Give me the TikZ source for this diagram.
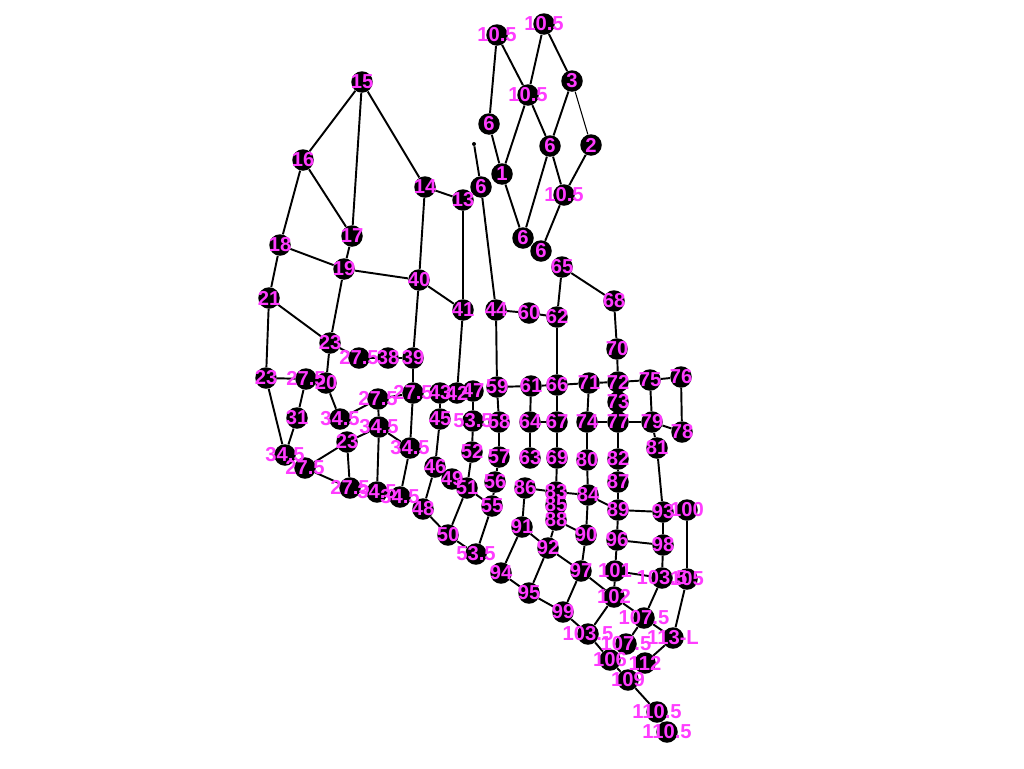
\documentclass[tikz,border=0pt]{standalone}
\usepackage{fontspec}
\setmainfont{Liberation Sans}
\usepackage{tikz}
\usetikzlibrary{backgrounds}
\definecolor{lblpink}{RGB}{255,60,255}
\pgfdeclarelayer{front}
\pgfsetlayers{background,main,front}

\begin{document}
\begin{tikzpicture}[x=0.02cm,y=-0.02cm]
    \tikzset{vx/.style={circle,fill=black,minimum size=0.43cm,inner sep=0pt},
      lbl/.style={inner sep=0pt,text=lblpink,font=\fontsize{11.5}{11.5}\selectfont\bfseries},
      ed/.style={line width=1.1pt}}
    \useasboundingbox (0,0) rectangle (1024,768);
    % upper group
    \foreach \n/\x/\y/\t in {a1/497/35/10.5,a2/544/24/10.5,a3/572/81/3,a4/528/95/10.5,a5/489/124/6,a6/550/146/6,a7/591/145/2,a8/502/174/1,a9/481/187/6,a10/564/195/10.5,a11/523/238/6,a12/541/251/6}{
      \node[vx] (\n) at (\x,\y) {};
      \begin{pgfonlayer}{front}\node[lbl] (\n t) at (\n) {\t};\end{pgfonlayer}
    }
    \node[circle,fill=black,minimum size=0.08cm,inner sep=0pt] (tip) at (474,144) {};
    % left group
    \foreach \n/\x/\y/\t in {n15/362/82/15,n16/303/160/16,n14/425/187/14,n13/463/200/13,n17/352/236/17,n18/280/245/18,n19/344/269/19,n40/419/280/40,n21/269/298/21,n41/463/310/41,
      n23a/330/343/23,n27a/359/358/27.5,n38/388/358/38,n39/413/358/39,n23b/266/378/23,n27b/306/379/27.5,n20/326/383/20,n27c/378/399/27.5,n27d/413/393/27.5,n43/440/393/43,n42/457/393/42,n47/473/391/47,
      n31/297/418/31,n34a/340/419/34.5,n34b/379/427/34.5,n45/440/419/45,n53a/473/421/53.5,n23c/347/442/23,n34c/410/448/34.5,n34d/285/455/34.5,n52/472/452/52,n27e/305/468/27.5,n46/435/467/46,n49/452/479/49,n51/467/488/51,
      n27f/350/488/27.5,n34e/377/492/34.5,n34f/400/497/34.5,n48/423/509/48,n50/448/535/50,n53b/476/554/53.5}{
      \node[vx] (\n) at (\x,\y) {};
      \begin{pgfonlayer}{front}\node[lbl] (\n t) at (\n) {\t};\end{pgfonlayer}
    }
    % middle group
    \foreach \n/\x/\y/\t in {n65/562/267/65,n44/496/310/44,n60/529/313/60,n62/557/317/62,n59/497/387/59,n61/531/386/61,n66/557/385/66,n71/589/383/71,n58/499/422/58,n64/530/422/64,n67/557/422/67,n74/587/422/74,
      n57/499/457/57,n63/530/458/63,n69/557/458/69,n80/587/460/80,n56/495/482/56,n86/525/488/86,n83/556/492/83,n84/588/495/84,n55/492/506/55,n85/556/505/85,n88/556/520/88,n91/522/527/91,n90/586/535/90,
      n92/548/548/92,n94/501/573/94,n97/581/571/97,n95/529/593/95,n99/563/612/99}{
      \node[vx] (\n) at (\x,\y) {};
      \begin{pgfonlayer}{front}\node[lbl] (\n t) at (\n) {\t};\end{pgfonlayer}
    }
    % right group
    \foreach \n/\x/\y/\t in {n68/614/301/68,n70/617/349/70,n72/618/382/72,n75/650/380/75,n76/681/377/76,n73/618/402/73,n77/618/422/77,n79/652/422/79,n78/682/432/78,n81/657/448/81,n82/618/459/82,n87/618/482/87,
      n89/618/510/89,n93/663/512/93,n100/687/510/100,n96/617/540/96,n98/663/545/98,n101/615/571/101,n103a/662/578/103.5,n105/687/579/105,n102/614/597/102,n107a/644/618/107.5,n103b/588/634/103.5,
      n113/673/638/113-L,n107b/626/644/107.5,n106/610/660/106,n112/645/663/112,n109/628/680/109,n110a/657/712/110.5,n110b/667/732/110.5}{
      \node[vx] (\n) at (\x,\y) {};
      \begin{pgfonlayer}{front}\node[lbl] (\n t) at (\n) {\t};\end{pgfonlayer}
    }
    \begin{pgfonlayer}{background}
      \foreach \a/\b in {a1/a5,a1/a4,a2/a4,a2/a3,a3/a6,a4/a6,a4/a8,a5/a8,a8/a11,a6/a11,a6/a10,a7/a10,a10/a12,tip/a9,a9/n44,
        n15/n16,n15/n17,n15/n14,n16/n17,n16/n18,n14/n13,n14/n40,n13/n41,n17/n19,n18/n19,n18/n21,n19/n40,n19/n23a,n21/n23a,n21/n23b,n40/n41,n40/n39,n41/n42,
        n23a/n27a,n27a/n38,n38/n39,n39/n27d,n23b/n27b,n27b/n31,n23a/n20,n20/n34a,n23b/n34d,n31/n34d,n34a/n27c,n27c/n27d,n27c/n34b,n34b/n23c,n34b/n34c,n34b/n34e,
        n23c/n27e,n23c/n27f,n27e/n27f,n27d/n34c,n34c/n34f,n43/n45,n45/n46,n46/n48,n48/n50,n50/n51,n50/n53b,n51/n52,n52/n53a,n53a/n47,n51/n55,n55/n53b,n55/n56,
        n56/n57,n57/n58,n58/n59,n59/n44,n44/n60,n60/n62,n62/n65,n65/n68,n62/n66,n59/n61,n61/n66,n66/n71,n71/n72,n61/n64,n64/n67,n66/n67,n64/n63,n67/n69,n71/n74,
        n74/n77,n74/n80,n69/n83,n80/n84,n86/n83,n83/n84,n83/n85,n85/n88,n86/n91,n91/n92,n91/n94,n92/n88,n92/n97,n92/n95,n88/n90,n84/n90,n90/n97,n94/n95,n95/n99,
        n99/n97,n97/n102,n99/n103b,n103b/n102,n103b/n106,n106/n109,n109/n110a,n110a/n110b,
        n68/n70,n70/n72,n72/n73,n73/n77,n72/n75,n75/n76,n75/n79,n76/n78,n79/n78,n77/n79,n79/n81,n77/n82,n82/n87,n87/n89,n84/n89,n89/n93,n81/n93,n93/n98,n89/n96,
        n96/n98,n96/n101,n101/n102,n101/n103a,n98/n103a,n100/n105,n103a/n107a,n102/n107a,n107a/n113,n107a/n107b,n105/n113,n113/n112}
        \draw[ed] (\a) -- (\b);
      \draw[line width=0.6pt] (a3) -- (a7);
    \end{pgfonlayer}
  \end{tikzpicture}
\end{document}
